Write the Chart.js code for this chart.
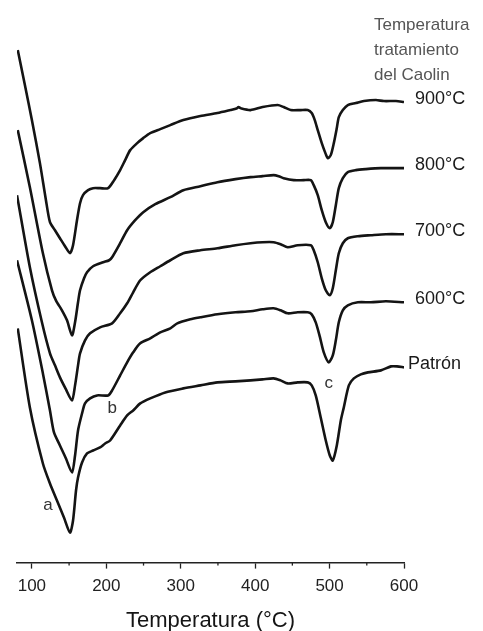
<!DOCTYPE html>
<html lang="es">
<head>
    <meta charset="UTF-8">
    <title>ATD - Caolin</title>
    <script src="https://cdn.jsdelivr.net/npm/chart.js"></script>
    <style>
        body { margin: 0; background: #fff; }
        .chart-box { width: 483px; height: 631px; }
    </style>
</head>
<body>
    <div class="chart-box">
        <canvas id="dtaChart"></canvas>
    </div>
    <script>
        // Curvas ATD (eje Y en unidades arbitrarias, curvas desplazadas)
        const t900 = [81, 90.6, 100, 110.8, 118.9, 124.3, 131, 137.7, 144.5, 151.2, 155.3, 160.6, 164.7, 168.7, 175.5, 182.2, 191.6, 202.4, 210.5, 218.6, 225.3, 232.1, 241.5, 249.6, 259, 272.5, 286, 303.5, 326.4, 349.3, 366.8, 374.9, 377.6, 381.7, 393.8, 410, 430.2, 438.3, 447.7, 461.2, 470.6, 476, 480.1, 484.1, 489.5, 494.9, 497.6, 501.6, 505.7, 509.7, 512.4, 517.8, 524.5, 535.3, 546.1, 562.3, 573, 589.2, 600];
        const s900 = [102.4, 95.4, 88.4, 79.8, 72.4, 68.0, 66.4, 64.8, 63.2, 61.8, 63.4, 68.4, 71.8, 73.4, 74.4, 74.8, 74.8, 74.8, 76.4, 78.4, 80.4, 82.4, 83.8, 84.8, 85.8, 86.6, 87.4, 88.4, 89.2, 89.8, 90.4, 90.7, 91.0, 90.7, 90.4, 91.0, 91.4, 91.0, 90.4, 90.4, 90.4, 89.8, 88.4, 86.4, 83.8, 81.6, 80.8, 81.4, 83.8, 86.8, 89.0, 90.4, 91.4, 91.8, 92.2, 92.4, 92.2, 92.2, 92.0];

        const t800 = [81, 97.3, 114.8, 127, 132.3, 140.4, 147.2, 153.9, 158, 162, 164.7, 170.1, 174.1, 182.2, 195.7, 203.8, 207.8, 218.6, 228, 238.8, 249.6, 265.8, 286, 303.5, 326.4, 349.3, 373.6, 393.8, 410, 424.8, 431.6, 438.3, 451.8, 465.2, 474.7, 478.7, 484.1, 489.5, 494.9, 500.3, 504.3, 508.4, 512.4, 517.8, 524.5, 535.3, 548.7, 569, 589.2, 600];
        const s800 = [86.4, 75.0, 61.8, 54.4, 52.4, 50.4, 48.4, 45.4, 48.0, 52.0, 54.4, 56.8, 58.0, 59.2, 60.0, 60.4, 61.0, 63.8, 66.4, 68.4, 70.0, 71.6, 73.0, 74.4, 75.2, 76.0, 76.6, 77.0, 77.2, 77.4, 77.2, 76.8, 76.4, 76.4, 76.4, 75.4, 73.4, 70.4, 68.0, 66.8, 68.0, 71.4, 74.8, 76.8, 78.0, 78.4, 78.6, 78.8, 78.8, 78.8];

        const t700 = [80, 97.3, 113.5, 124.3, 131, 137.7, 145.8, 153.9, 158, 162, 164.7, 171.4, 178.2, 191.6, 207.8, 218.6, 228, 236.1, 245.6, 259, 272.5, 286, 303.5, 326.4, 349.3, 373.6, 393.8, 410, 424.8, 434.2, 443.7, 457.1, 474.7, 478.7, 484.1, 489.5, 494.9, 500.3, 504.3, 508.4, 512.4, 517.8, 524.5, 538, 555.5, 575.7, 600];
        const s700 = [73.4, 59.0, 48.0, 41.8, 39.4, 37.0, 34.6, 32.4, 35.4, 39.4, 41.8, 44.4, 45.8, 47.0, 47.8, 49.8, 51.8, 54.0, 56.4, 58.0, 59.2, 60.4, 61.8, 62.4, 62.8, 63.4, 63.8, 64.0, 64.0, 63.6, 63.0, 63.4, 63.4, 62.4, 60.0, 56.8, 54.4, 53.4, 54.8, 58.4, 61.8, 63.8, 64.8, 65.2, 65.4, 65.6, 65.6];

        const t600 = [80, 100, 114.8, 124.3, 129.7, 137.7, 145.8, 153.9, 158, 162, 167.4, 171.4, 178.2, 187.6, 202.4, 207.8, 218.6, 228, 236.1, 245.6, 259, 272.5, 286, 295.4, 312.9, 326.4, 349.3, 373.6, 393.8, 410, 424.8, 434.2, 443.7, 457.1, 470.6, 476, 481.4, 486.8, 492.2, 498.9, 504.3, 508.4, 512.4, 517.8, 524.5, 538, 555.5, 575.7, 600];
        const s600 = [60.4, 48.4, 37.8, 30.4, 26.0, 23.4, 20.8, 18.0, 21.4, 26.4, 29.8, 31.8, 32.8, 33.4, 33.4, 34.4, 37.4, 40.0, 42.0, 43.8, 44.8, 46.0, 46.8, 47.8, 48.6, 49.0, 49.6, 50.0, 50.2, 50.6, 50.8, 50.4, 49.8, 50.0, 50.0, 49.6, 48.0, 45.2, 42.0, 40.0, 41.4, 44.4, 48.0, 50.4, 51.4, 52.0, 52.0, 52.2, 52.0];

        const tPatron = [81, 97.3, 114.8, 124.3, 133.7, 143.1, 151.2, 155.3, 159.3, 162, 167.4, 174.1, 182.2, 191.6, 198.4, 205.1, 218.6, 228, 236.1, 245.6, 259, 279.2, 303.5, 326.4, 349.3, 373.6, 393.8, 410, 424.8, 434.2, 443.7, 457.1, 470.6, 476, 481.4, 488.1, 494.9, 500.3, 504.3, 509.7, 515.1, 519.1, 525.9, 532.6, 542, 551.5, 569, 582.5, 590.6, 600];
        const sPatron = [46.8, 31.0, 19.8, 15.8, 12.4, 9.0, 6.0, 8.4, 14.4, 17.0, 20.0, 21.8, 22.4, 23.0, 23.8, 24.4, 27.4, 29.4, 30.4, 31.8, 32.8, 34.0, 34.8, 35.4, 36.0, 36.2, 36.4, 36.6, 36.8, 36.4, 35.8, 36.0, 36.0, 35.4, 33.4, 29.0, 24.4, 21.4, 20.4, 23.4, 28.4, 31.0, 35.4, 36.8, 37.6, 38.0, 38.4, 39.2, 39.2, 39.0];

        const seriesNames = ['900°C', '800°C', '700°C', '600°C', 'Patrón'];
        const seriesTemps = [t900, t800, t700, t600, tPatron];
        const seriesSignals = [s900, s800, s700, s600, sPatron];

        const xTicks = [100, 200, 300, 400, 500, 600];
        const xMinorTicks = [150, 250, 350, 450, 550];

        const legendTitle = ['Temperatura', 'tratamiento', 'del Caolin'];
        // letras de los picos: [texto, temperatura, señal]
        const peakLetters = [['a', 121.6, 11.4], ['b', 207.8, 30.8], ['c', 498.9, 35.8]];

        const datasets = seriesNames.map((name, i) => ({
            label: name,
            data: seriesTemps[i].map((t, j) => ({ x: t, y: seriesSignals[i][j] })),
            borderColor: '#141414',
            borderWidth: 2.6,
            pointRadius: 0,
            tension: 0.25,
            fill: false
        }));

        const annotatePlugin = {
            id: 'annotate',
            afterDatasetsDraw(chart) {
                const ctx = chart.ctx;
                const xs = chart.scales.x;
                const ys = chart.scales.y;
                ctx.save();
                ctx.textBaseline = 'middle';

                // nombres de las curvas al final de cada una
                ctx.fillStyle = '#1a1a1a';
                ctx.font = '18px "Liberation Sans", Arial, sans-serif';
                chart.data.datasets.forEach((ds, i) => {
                    const pts = chart.getDatasetMeta(i).data;
                    const last = pts[pts.length - 1];
                    const gap = ds.label === 'Patrón' ? 4 : 11;
                    ctx.fillText(ds.label, last.x + gap, last.y - 3);
                });

                // titulo de la leyenda
                ctx.fillStyle = '#555';
                ctx.font = '17px "Liberation Sans", Arial, sans-serif';
                legendTitle.forEach((line, k) => {
                    ctx.fillText(line, 374, 25 + k * 25);
                });

                // letras a, b, c
                ctx.fillStyle = '#333';
                ctx.textAlign = 'center';
                ctx.font = '17px "Liberation Sans", Arial, sans-serif';
                peakLetters.forEach(([txt, t, s]) => {
                    ctx.fillText(txt, xs.getPixelForValue(t), ys.getPixelForValue(s));
                });

                // marcas menores del eje X
                ctx.strokeStyle = '#222';
                ctx.lineWidth = 1.3;
                xMinorTicks.forEach(v => {
                    const px = xs.getPixelForValue(v);
                    ctx.beginPath();
                    ctx.moveTo(px, xs.top);
                    ctx.lineTo(px, xs.top + 3);
                    ctx.stroke();
                });
                ctx.restore();
            }
        };

        new Chart(document.getElementById('dtaChart'), {
            type: 'line',
            data: { datasets: datasets },
            options: {
                responsive: true,
                maintainAspectRatio: false,
                animation: false,
                layout: { padding: { left: 17, right: 79, top: 42, bottom: -1 } },
                plugins: { legend: { display: false }, tooltip: { enabled: false } },
                scales: {
                    x: {
                        type: 'linear',
                        min: 80,
                        max: 600,
                        afterBuildTicks: scale => {
                            scale.ticks = xTicks.map(v => ({ value: v }));
                        },
                        border: { display: true, color: '#222', width: 1.4 },
                        grid: { drawOnChartArea: false, tickLength: 6, tickColor: '#222', tickWidth: 1.3 },
                        ticks: {
                            color: '#222',
                            padding: 8,
                            maxRotation: 0,
                            font: { family: '"Liberation Sans", Arial, sans-serif', size: 17 }
                        },
                        title: {
                            display: true,
                            text: 'Temperatura (°C)',
                            color: '#151515',
                            padding: { top: 5, bottom: 0 },
                            font: { family: '"Liberation Sans", Arial, sans-serif', size: 22, lineHeight: 1 }
                        }
                    },
                    y: {
                        type: 'linear',
                        display: false,
                        min: 0,
                        max: 104
                    }
                }
            },
            plugins: [annotatePlugin]
        });
    </script>
</body>
</html>
